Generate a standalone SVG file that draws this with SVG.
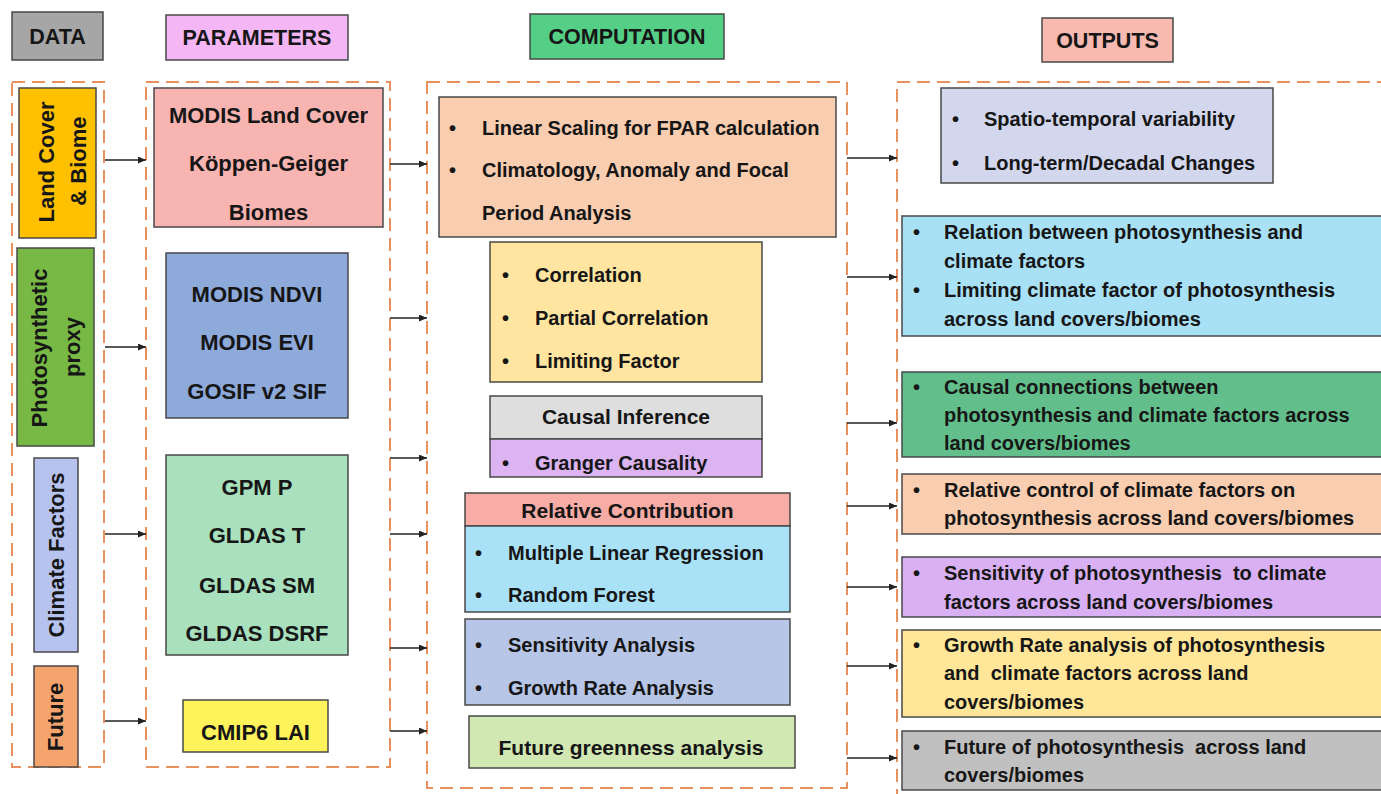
<svg xmlns="http://www.w3.org/2000/svg" width="1381" height="794" viewBox="0 0 1381 794">
<defs>
<marker id="ah" viewBox="0 0 10 10" refX="10" refY="5" markerWidth="8" markerHeight="7" orient="auto" markerUnits="userSpaceOnUse" preserveAspectRatio="none">
<path d="M0,0 L10,5 L0,10 z" fill="#222"/>
</marker>
<style>
.t{font-family:"Liberation Sans",Arial,sans-serif;font-weight:bold;fill:#161616}
.h{font-size:21.5px;text-anchor:middle}
.p{font-size:22px;text-anchor:middle}
.r{font-size:22px;text-anchor:middle}
.b{font-size:20px}
.m{font-size:21px;text-anchor:middle}
.box{stroke:#484848;stroke-width:1.5}
.dash{fill:none;stroke:#e8915f;stroke-width:2;stroke-dasharray:13 7}
.c{stroke:#222;stroke-width:1.6;fill:none;marker-end:url(#ah)}
</style>
</defs>
<rect width="1381" height="794" fill="#ffffff"/>

<!-- Headers -->
<g id="hdr-data"><rect class="box" x="12" y="12" width="91" height="48" fill="#a6a6a6"/><text class="t h" x="57.5" y="44">DATA</text></g>
<g id="hdr-parameters"><rect class="box" x="166" y="15" width="182" height="45" fill="#f4b6f4"/><text class="t h" x="257" y="45">PARAMETERS</text></g>
<g id="hdr-computation"><rect class="box" x="530" y="14" width="194" height="45" fill="#55cf86"/><text class="t h" x="627" y="44">COMPUTATION</text></g>
<g id="hdr-outputs"><rect class="box" x="1042" y="18" width="131" height="44" fill="#f7b9b0"/><text class="t h" x="1107.5" y="48">OUTPUTS</text></g>

<!-- Dashed containers -->
<g id="containers">
<rect class="dash" x="12" y="82" width="92" height="685"/>
<rect class="dash" x="146" y="82" width="244" height="685"/>
<rect class="dash" x="427" y="82" width="420" height="706"/>
<rect class="dash" x="897" y="82" width="500" height="730"/>
</g>

<!-- DATA nodes -->
<g id="data-landcover"><rect class="box" x="19" y="88" width="77" height="150" fill="#ffc000"/>
<text class="t r" transform="translate(54,162) rotate(-90)">Land Cover</text>
<text class="t r" transform="translate(86,161) rotate(-90)">&amp; Biome</text></g>
<g id="data-photosynthetic"><rect class="box" x="17" y="248" width="77" height="198" fill="#77b944"/>
<text class="t r" transform="translate(47,348) rotate(-90)">Photosynthetic</text>
<text class="t r" transform="translate(80,347) rotate(-90)">proxy</text></g>
<g id="data-climate"><rect class="box" x="34" y="458" width="44" height="194" fill="#b7c3ef"/>
<text class="t r" transform="translate(64,555) rotate(-90)">Climate Factors</text></g>
<g id="data-future"><rect class="box" x="34" y="666" width="44" height="101" fill="#f5a46e"/>
<text class="t r" transform="translate(63,717) rotate(-90)">Future</text></g>

<!-- PARAMETERS nodes -->
<g id="param-landcover"><rect class="box" x="154" y="88" width="229" height="139" fill="#f8b4b0"/>
<text class="t p" x="268.5" y="123">MODIS Land Cover</text>
<text class="t p" x="268.5" y="171">Köppen-Geiger</text>
<text class="t p" x="268.5" y="220">Biomes</text></g>
<g id="param-proxy"><rect class="box" x="166" y="253" width="182" height="165" fill="#8eaadb"/>
<text class="t p" x="257" y="302">MODIS NDVI</text>
<text class="t p" x="257" y="350">MODIS EVI</text>
<text class="t p" x="257" y="399">GOSIF v2 SIF</text></g>
<g id="param-climate"><rect class="box" x="166" y="455" width="182" height="200" fill="#a9e0bd"/>
<text class="t p" x="257" y="495">GPM P</text>
<text class="t p" x="257" y="543">GLDAS T</text>
<text class="t p" x="257" y="593">GLDAS SM</text>
<text class="t p" x="257" y="641">GLDAS DSRF</text></g>
<g id="param-future"><rect class="box" x="183" y="700" width="145" height="52" fill="#fff35c"/>
<text class="t p" x="255.5" y="740">CMIP6 LAI</text></g>

<!-- COMPUTATION nodes -->
<g id="comp-scaling"><rect class="box" x="439" y="97" width="397" height="140" fill="#f9cdb0"/>
<text class="t b" x="449" y="135">•</text><text class="t b" x="482" y="135">Linear Scaling for FPAR calculation</text>
<text class="t b" x="449" y="177">•</text><text class="t b" x="482" y="177">Climatology, Anomaly and Focal</text>
<text class="t b" x="482" y="220">Period Analysis</text></g>
<g id="comp-correlation"><rect class="box" x="490" y="242" width="272" height="140" fill="#ffe5a0"/>
<text class="t b" x="502" y="282">•</text><text class="t b" x="535" y="282">Correlation</text>
<text class="t b" x="502" y="325">•</text><text class="t b" x="535" y="325">Partial Correlation</text>
<text class="t b" x="502" y="368">•</text><text class="t b" x="535" y="368">Limiting Factor</text></g>
<g id="comp-causal"><rect class="box" x="490" y="396" width="272" height="43" fill="#dedede"/>
<text class="t m" x="626" y="424">Causal Inference</text>
<rect class="box" x="490" y="439" width="272" height="38" fill="#dcb4f2"/>
<text class="t b" x="502" y="470">•</text><text class="t b" x="535" y="470">Granger Causality</text></g>
<g id="comp-relative"><rect class="box" x="465" y="493" width="325" height="33" fill="#f7aca6"/>
<text class="t m" x="627.5" y="518">Relative Contribution</text>
<rect class="box" x="465" y="526" width="325" height="86" fill="#a9e1f6"/>
<text class="t b" x="475" y="560">•</text><text class="t b" x="508" y="560">Multiple Linear Regression</text>
<text class="t b" x="475" y="602">•</text><text class="t b" x="508" y="602">Random Forest</text></g>
<g id="comp-sensitivity"><rect class="box" x="465" y="619" width="325" height="86" fill="#b7c6e6"/>
<text class="t b" x="475" y="652">•</text><text class="t b" x="508" y="652">Sensitivity Analysis</text>
<text class="t b" x="475" y="695">•</text><text class="t b" x="508" y="695">Growth Rate Analysis</text></g>
<g id="comp-future"><rect class="box" x="469" y="716" width="326" height="52" fill="#d2e8b3"/>
<text class="t m" x="631" y="755">Future greenness analysis</text></g>

<!-- OUTPUTS nodes -->
<g id="out-variability"><rect class="box" x="941" y="88" width="332" height="95" fill="#d3d7ee"/>
<text class="t b" x="952" y="126">•</text><text class="t b" x="984" y="126">Spatio-temporal variability</text>
<text class="t b" x="952" y="170">•</text><text class="t b" x="984" y="170">Long-term/Decadal Changes</text></g>
<g id="out-relation"><rect class="box" x="902" y="216" width="490" height="120" fill="#a8e0f5"/>
<text class="t b" x="913" y="239">•</text><text class="t b" x="944" y="239">Relation between photosynthesis and</text>
<text class="t b" x="944" y="268">climate factors</text>
<text class="t b" x="913" y="297">•</text><text class="t b" x="944" y="297">Limiting climate factor of photosynthesis</text>
<text class="t b" x="944" y="326">across land covers/biomes</text></g>
<g id="out-causal"><rect class="box" x="902" y="372" width="490" height="85" fill="#62bf8c"/>
<text class="t b" x="913" y="394">•</text><text class="t b" x="944" y="394">Causal connections between</text>
<text class="t b" x="944" y="422">photosynthesis and climate factors across</text>
<text class="t b" x="944" y="450">land covers/biomes</text></g>
<g id="out-relative"><rect class="box" x="902" y="474" width="490" height="60" fill="#f9cdb0"/>
<text class="t b" x="913" y="497">•</text><text class="t b" x="944" y="497">Relative control of climate factors on</text>
<text class="t b" x="944" y="525">photosynthesis across land covers/biomes</text></g>
<g id="out-sensitivity"><rect class="box" x="902" y="557" width="490" height="60" fill="#d9b0f3"/>
<text class="t b" x="913" y="580">•</text><text class="t b" x="944" y="580" xml:space="preserve">Sensitivity of photosynthesis  to climate</text>
<text class="t b" x="944" y="609">factors across land covers/biomes</text></g>
<g id="out-growth"><rect class="box" x="902" y="630" width="490" height="87" fill="#ffe699"/>
<text class="t b" x="913" y="652">•</text><text class="t b" x="944" y="652">Growth Rate analysis of photosynthesis</text>
<text class="t b" x="944" y="680" xml:space="preserve">and  climate factors across land</text>
<text class="t b" x="944" y="709">covers/biomes</text></g>
<g id="out-future"><rect class="box" x="902" y="731" width="490" height="59" fill="#c0c0c0"/>
<text class="t b" x="913" y="754">•</text><text class="t b" x="944" y="754" xml:space="preserve">Future of photosynthesis  across land</text>
<text class="t b" x="944" y="782">covers/biomes</text></g>

<!-- Connectors -->
<g id="connectors">
<line class="c" x1="105" y1="160" x2="146" y2="160"/>
<line class="c" x1="105" y1="347" x2="146" y2="347"/>
<line class="c" x1="105" y1="534" x2="146" y2="534"/>
<line class="c" x1="105" y1="721" x2="146" y2="721"/>
<line class="c" x1="390" y1="164" x2="427" y2="164"/>
<line class="c" x1="390" y1="318" x2="427" y2="318"/>
<line class="c" x1="390" y1="458" x2="427" y2="458"/>
<line class="c" x1="390" y1="534" x2="427" y2="534"/>
<line class="c" x1="390" y1="648" x2="427" y2="648"/>
<line class="c" x1="390" y1="731" x2="427" y2="731"/>
<line class="c" x1="847" y1="158" x2="897" y2="158"/>
<line class="c" x1="847" y1="277" x2="897" y2="277"/>
<line class="c" x1="847" y1="423" x2="897" y2="423"/>
<line class="c" x1="847" y1="506" x2="897" y2="506"/>
<line class="c" x1="847" y1="587" x2="897" y2="587"/>
<line class="c" x1="847" y1="666" x2="897" y2="666"/>
<line class="c" x1="847" y1="758" x2="897" y2="758"/>
</g>
</svg>
